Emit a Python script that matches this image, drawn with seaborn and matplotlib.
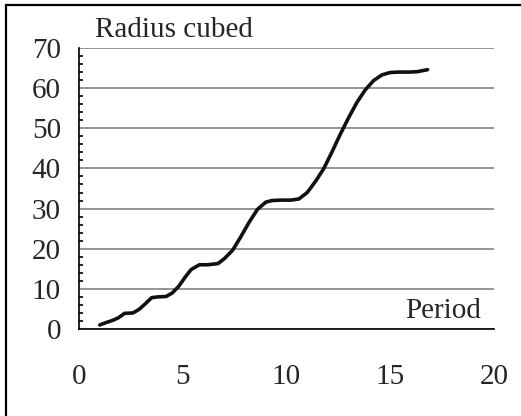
import numpy as np
import pandas as pd
import matplotlib
matplotlib.use("Agg")
import matplotlib.pyplot as plt
import seaborn as sns
from matplotlib.patches import Rectangle
from matplotlib.ticker import MultipleLocator

# valores
period = [1.0, 1.3, 1.6, 1.9, 2.2, 2.6, 2.9, 3.2, 3.5, 3.8, 4.2, 4.5, 4.8,
          5.1, 5.4, 5.8, 6.2, 6.7, 7.0, 7.4, 7.8, 8.2, 8.6, 9.0, 9.3, 9.7,
          10.2, 10.6, 11.0, 11.4, 11.8, 12.2, 12.6, 13.0, 13.4, 13.8, 14.2,
          14.6, 15.0, 15.4, 15.9, 16.3, 16.8]
radius_cubed = [1.0, 1.6, 2.1, 2.8, 3.9, 4.0, 4.9, 6.3, 7.8, 8.0, 8.1, 9.0, 10.6,
                12.8, 14.8, 16.0, 16.0, 16.3, 17.5, 19.6, 23.0, 26.6, 29.8, 31.6, 32.0, 32.1,
                32.1, 32.4, 34.0, 36.8, 40.0, 44.2, 48.6, 52.7, 56.5, 59.6, 61.9,
                63.3, 63.9, 64.0, 64.0, 64.1, 64.6]

x_ticks = [0, 5, 10, 15, 20]
y_ticks = [0, 10, 20, 30, 40, 50, 60, 70]

df = pd.DataFrame({"Period": period, "Radius cubed": radius_cubed})

sns.set_style("white")
plt.rcParams["font.family"] = ["Liberation Serif", "DejaVu Serif"]
plt.rcParams["font.size"] = 21

fig = plt.figure(figsize=(5.21, 4.16), dpi=100)
ax = fig.add_axes([79 / 521, 1 - 329 / 416, 415 / 521, 281 / 416])

ax.yaxis.grid(True, color="#8c8c8c", linewidth=1.3)
ax.set_axisbelow(True)

sns.lineplot(data=df, x="Period", y="Radius cubed", ax=ax, color="#111111",
             linewidth=2.6, sort=False)

ax.set_xlim(0, 20)
ax.set_ylim(0, 70)
ax.set_xticks(x_ticks)
ax.set_yticks(y_ticks)
ax.yaxis.set_minor_locator(MultipleLocator(2))
ax.tick_params(axis="x", direction="out", length=6.5, width=1.2, pad=19,
               labelsize=21, color="black")
ax.tick_params(axis="y", which="major", direction="out", length=8, width=1.2,
               pad=5, labelsize=21, color="black")
ax.tick_params(axis="y", which="minor", direction="in", length=3, width=1.2,
               color="black", left=True)
ax.set_xlabel("")
ax.set_ylabel("")

for side in ["top", "right"]:
    ax.spines[side].set_visible(False)
for side in ["left", "bottom"]:
    ax.spines[side].set_color("black")
    ax.spines[side].set_linewidth(1.2)

ax.text(0.0386, 1.039, "Radius cubed", transform=ax.transAxes, ha="left",
        va="baseline", fontsize=21)
ax.text(0.786, 0.039, "Period", transform=ax.transAxes, ha="left",
        va="baseline", fontsize=21)

# cadre autour du graphique
fig.patches.append(Rectangle((6 / 521, -0.5), 2.0, 1 - 5 / 416 + 0.5,
                             transform=fig.transFigure, fill=False,
                             edgecolor="black", linewidth=1.6))

fig.savefig("out.png", dpi=100)
